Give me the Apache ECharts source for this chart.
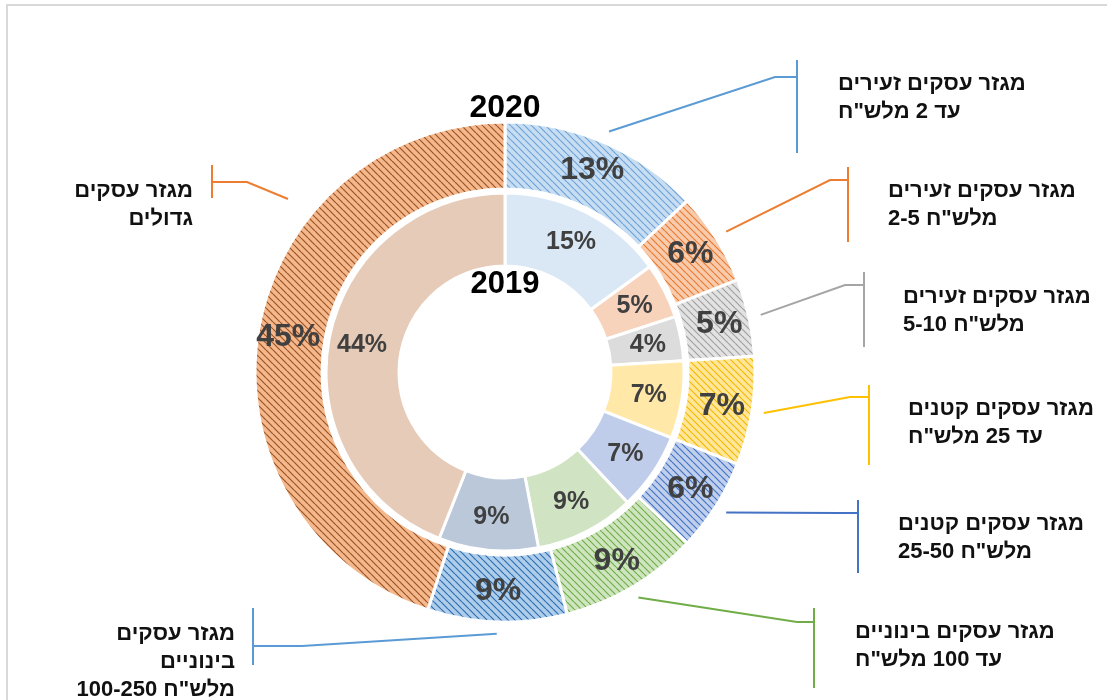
<!DOCTYPE html>
<html>
<head>
<meta charset="utf-8">
<script src="https://cdn.jsdelivr.net/npm/echarts@6/dist/echarts.min.js"></script>
<style>html,body{margin:0;padding:0;background:#fff;}#c{width:1107px;height:700px;}</style>
</head>
<body>
<div id="c"></div>
<script>
// ---- data ----
const categories = [
  'מגזר עסקים זעירים\nעד 2 מלש"ח',
  'מגזר עסקים זעירים\nמלש"ח 2-5',
  'מגזר עסקים זעירים\nמלש"ח 5-10',
  'מגזר עסקים קטנים\nעד 25 מלש"ח',
  'מגזר עסקים קטנים\nמלש"ח 25-50',
  'מגזר עסקים בינוניים\nעד 100 מלש"ח',
  'מגזר עסקים\nבינוניים\nמלש"ח 100-250',
  'מגזר עסקים\nגדולים'
];
const values2020 = [13, 6, 5, 7, 6, 9, 9, 45];
const values2019 = [15, 5, 4, 7, 7, 9, 9, 44];
const yearLabels = ['2020', '2019'];

// ---- styles ----
const stripeBg = ['#C7DDF2', '#F8CBAD', '#E2E2E2', '#FFE699', '#BFCFEC', '#CFE5C0', '#ADCDEB', '#F5B78C'];
const stripeFg = ['#6FA3D8', '#EA7A30', '#A0A0A0', '#F2B800', '#4472C4', '#70AD47', '#2E6DB0', '#9A5424'];
const innerColors = ['#DAE8F6', '#F8D3BC', '#DCDCDC', '#FFE8A8', '#BFCDEA', '#D0E4C3', '#BAC8DA', '#E6CBB8'];
const lineColors = ['#5B9BD5', '#ED7D31', '#A5A5A5', '#FFC000', '#4472C4', '#70AD47', '#5B9BD5', '#ED7D31'];
const FONT = 'Arial, "Liberation Sans", sans-serif';

const calloutLayout = [
  { elbow: [775, 77], barX: 797, bar: [60, 153], text: [838, 70], align: 'left' },
  { elbow: [830, 180], barX: 848, bar: [167, 242], text: [888, 177], align: 'left' },
  { elbow: [845, 285], barX: 864, bar: [272, 347], text: [903, 283], align: 'left' },
  { elbow: [850, 397], barX: 869, bar: [385, 465], text: [908, 395], align: 'left' },
  { elbow: [840, 513], barX: 858, bar: [500, 573], text: [898, 510], align: 'left' },
  { elbow: [797, 622], barX: 814, bar: [608, 688], text: [855, 618], align: 'left' },
  { elbow: [302, 646], barX: 253, bar: [608, 665], text: [235, 620], align: 'right' },
  { start: [288, 199], elbow: [247, 182], barX: 212, bar: [165, 198], text: [193, 177], align: 'right' }
];

function stripe(bg, fg) {
  const s = 7;
  const c = document.createElement('canvas');
  c.width = s; c.height = s;
  const ctx = c.getContext('2d');
  ctx.fillStyle = bg; ctx.fillRect(0, 0, s, s);
  ctx.strokeStyle = fg; ctx.lineWidth = 1.2;
  ctx.beginPath();
  for (const o of [-s, 0, s]) { ctx.moveTo(o, 0); ctx.lineTo(o + s, s); }
  ctx.stroke();
  return c;
}

const center = [505, 372];
const chart = echarts.init(document.getElementById('c'));

const outerData = values2020.map((v, i) => ({
  name: categories[i], value: v,
  itemStyle: { color: { image: stripe(stripeBg[i], stripeFg[i]), repeat: 'repeat' } }
}));
const innerData = values2019.map((v, i) => ({
  name: categories[i], value: v, itemStyle: { color: innerColors[i] }
}));
const calloutData = values2020.map((v, i) => ({
  name: categories[i], value: v,
  labelLine: { lineStyle: { color: lineColors[i], width: 2 } }
}));

chart.setOption({
  animation: false,
  graphic: [
    { type: 'rect', shape: { x: 7, y: 5, width: 1110, height: 710 }, style: { fill: 'none', stroke: '#D9D9D9', lineWidth: 2 }, silent: true },
    { type: 'text', x: center[0], y: 108, z: 10, style: { text: yearLabels[0], font: 'bold 32px ' + FONT, fill: '#000', textAlign: 'center', textVerticalAlign: 'middle' } },
    { type: 'text', x: center[0], y: 284, z: 10, style: { text: yearLabels[1], font: 'bold 31px ' + FONT, fill: '#000', textAlign: 'center', textVerticalAlign: 'middle' } }
  ],
  series: [
    {
      type: 'pie', center: center, radius: [183, 250], startAngle: 90, clockwise: true,
      avoidLabelOverlap: false, silent: true,
      itemStyle: { borderColor: '#fff', borderWidth: 3 },
      label: { show: true, position: 'inside', formatter: '{c}%', fontFamily: FONT, fontWeight: 'bold', fontSize: 32, color: '#404040' },
      labelLine: { show: false },
      data: outerData
    },
    {
      type: 'pie', center: center, radius: [106, 179], startAngle: 90, clockwise: true,
      avoidLabelOverlap: false, silent: true,
      itemStyle: { borderColor: '#fff', borderWidth: 3 },
      label: { show: true, position: 'inside', formatter: '{c}%', fontFamily: FONT, fontWeight: 'bold', fontSize: 25, color: '#404040' },
      labelLine: { show: false },
      data: innerData
    },
    {
      type: 'pie', center: center, radius: [183, 250], startAngle: 90, clockwise: true,
      avoidLabelOverlap: false, silent: true, z: 5,
      itemStyle: { color: 'rgba(0,0,0,0)', borderWidth: 0 },
      label: { show: true, position: 'outside', formatter: '{b}', fontFamily: FONT, fontWeight: 'bold', fontSize: 22, lineHeight: 28, color: '#111' },
      labelLine: { show: true, length: 12, length2: 10 },
      labelLayout: function (p) {
        const L = calloutLayout[p.dataIndex];
        const start = L.start || (p.labelLinePoints ? p.labelLinePoints[1] : L.elbow);
        return {
          x: L.text[0], y: L.text[1], align: L.align, verticalAlign: 'top',
          labelLinePoints: [start, L.elbow, [L.barX, L.elbow[1]], [L.barX, L.bar[0]], [L.barX, L.bar[1]]]
        };
      },
      data: calloutData
    }
  ]
});
</script>
</body>
</html>
